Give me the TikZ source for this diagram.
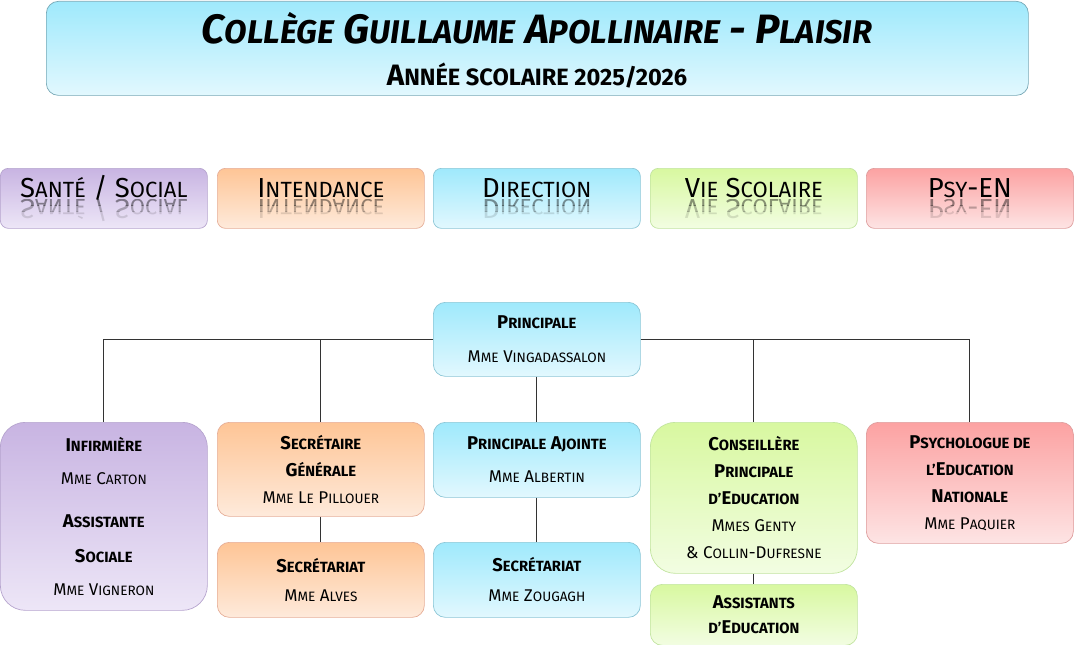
\documentclass[tikz,border=0pt]{standalone}
\usepackage{fontspec}
\setmainfont{Fira Sans}
\makeatletter
\newcommand\smc[1]{{\dimen@=\f@size pt\dimen@=0.8\dimen@\fontsize{\strip@pt\dimen@}{\f@baselineskip}\selectfont\MakeUppercase{#1}}}
\makeatother
\newcommand\nm[1]{{\mdseries\fontsize{17}{27}\selectfont #1}}
\definecolor{pT}{HTML}{C8B4E2}\definecolor{pB}{HTML}{EDE6F7}\definecolor{pD}{HTML}{B6A4CE}
\definecolor{oT}{HTML}{FEC596}\definecolor{oB}{HTML}{FEEADB}\definecolor{oD}{HTML}{E6AE98}
\definecolor{bT}{HTML}{9FE9FC}\definecolor{bB}{HTML}{E2F8FE}\definecolor{bD}{HTML}{8CC6D6}
\definecolor{gT}{HTML}{D8F8A0}\definecolor{gB}{HTML}{F2FDE2}\definecolor{gD}{HTML}{C2E4A0}
\definecolor{rT}{HTML}{FCA2A2}\definecolor{rB}{HTML}{FDE4E4}\definecolor{rD}{HTML}{DE9E9E}
\tikzset{
  box/.style={draw, rounded corners=12pt, anchor=north west, minimum width=207pt,
    align=center, inner sep=0pt, line width=0.7pt,
    font=\bfseries\fontsize{18.5}{27}\selectfont},
  purple/.style={box, draw=pD, top color=pT, bottom color=pB},
  orange/.style={box, draw=oD, top color=oT, bottom color=oB},
  blue/.style={box, draw=bD, top color=bT, bottom color=bB},
  green/.style={box, draw=gD, top color=gT, bottom color=gB},
  red/.style={box, draw=rD, top color=rT, bottom color=rB},
  topbox/.style={minimum height=60pt, rounded corners=8pt},
  toplbl/.style={anchor=base, inner sep=0pt, font=\fontsize{27.5}{30}\selectfont},
  refl/.style={toplbl, yscale=-1},
  link/.style={draw=black!80, line width=0.9pt},
}
\begin{document}
\begin{tikzpicture}[x=1pt,y=-1pt]
\useasboundingbox (0,0) rectangle (1074,645);
% title
\node[blue, draw=bD!85!black, minimum width=982pt, minimum height=94pt] (title) at (46,1) {};
\node[anchor=base, inner sep=0pt, font=\bfseries\itshape\fontsize{41}{44}\selectfont] (t1) at (537,43)
  {C\smc{ollège} G\smc{uillaume} A\smc{pollinaire} - P\smc{laisir}};
\node[anchor=base, inner sep=0pt, font=\bfseries\fontsize{29.5}{32}\selectfont] (t2) at (537,85)
  {A\smc{nnée scolaire 2025/2026}};
% top row
\node[purple, topbox] (s1) at (0,168) {};
\node[orange, topbox] (s2) at (217,168) {};
\node[blue, topbox] (s3) at (433,168) {};
\node[green, topbox] (s4) at (650,168) {};
\node[red, topbox] (s5) at (866,168) {};
\foreach \b/\t in {s1/{S\smc{anté} / S\smc{ocial}}, s2/{I\smc{ntendance}}, s3/{D\smc{irection}}, s4/{V\smc{ie} S\smc{colaire}}, s5/{P\smc{sy}-EN}}{
  \node[toplbl] (\b l) at ([yshift=31pt]\b.south) {\t};
  \foreach \ya/\yb/\op in {29/23/0.42, 23/17/0.26, 17/0/0.12}{
    \begin{scope}
      \clip ([yshift=\ya pt]\b.south west) rectangle ([yshift=\yb pt]\b.south east);
      \node[refl, text opacity=\op] (\b r\ya) at ([yshift=29pt]\b.south) {\t};
    \end{scope}
  }
}
% org chart
\node[blue, minimum height=74pt] (prin) at (433,302)
  {P\smc{rincipale}\\[7pt]\nm{M\smc{me} V\smc{ingadassalon}}};
\node[purple, minimum height=188pt, rounded corners=25pt] (inf) at (0,422)
  {I\smc{nfirmière}\\[6pt]\nm{M\smc{me} C\smc{arton}}\\[16pt]A\smc{ssistante}\\[8pt]S\smc{ociale}\\[6pt]\nm{M\smc{me} V\smc{igneron}}};
\node[orange, minimum height=94pt] (secg) at (217,422)
  {S\smc{ecrétaire}\\G\smc{énérale}\\\nm{M\smc{me} L\smc{e} P\smc{illouer}}};
\node[orange, minimum height=75pt] (seco) at (217,542)
  {S\smc{ecrétariat}\\[2pt]\nm{M\smc{me} A\smc{lves}}};
\node[blue, minimum height=75pt] (padj) at (433,422)
  {P\smc{rincipale} A\smc{jointe}\\[6pt]\nm{M\smc{me} A\smc{lbertin}}};
\node[blue, minimum height=75pt] (secb) at (433,542)
  {S\smc{ecrétariat}\\[3pt]\nm{M\smc{me} Z\smc{ougagh}}};
\node[green, minimum height=151pt, rounded corners=25pt] (cpe) at (650,422)
  {C\smc{onseillère}\\P\smc{rincipale}\\\smc{d'}E\smc{ducation}\\\nm{M\smc{mes} G\smc{enty}}\\\nm{\& C\smc{ollin}-D\smc{ufresne}}};
\node[green, minimum height=61pt] (aed) at (650,584)
  {A\smc{ssistants}\\[-2pt]\smc{d'}E\smc{ducation}};
\node[red, minimum height=121pt] (psy) at (866,422)
  {P\smc{sychologue de}\\\smc{l'}E\smc{ducation}\\N\smc{ationale}\\\nm{M\smc{me} P\smc{aquier}}};
% connectors
\draw[link] (prin.west) -| (inf.north);
\draw[link] (prin.west) -| (secg.north);
\draw[link] (prin.east) -| (cpe.north);
\draw[link] (prin.east) -| (psy.north);
\draw[link] (prin.south) -- (padj.north);
\draw[link] (padj.south) -- (secb.north);
\draw[link] (secg.south) -- (seco.north);
\draw[link] (cpe.south) -- (aed.north);
\end{tikzpicture}
\end{document}
